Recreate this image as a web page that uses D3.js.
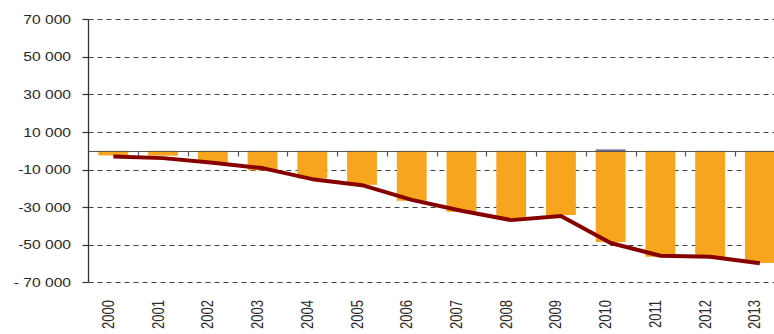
<!DOCTYPE html>
<html>
<head>
<meta charset="utf-8">
<script src="https://cdn.jsdelivr.net/npm/d3@7"></script>
<style>
  html, body { margin: 0; padding: 0; background: #fff; }
  svg { display: block; }
  text { font-family: "Liberation Sans", Arial, sans-serif; fill: #2a2a2a; }
</style>
</head>
<body>
<svg id="chart" width="774" height="334"></svg>
<script>
// Yearly figures
const years = ["2000","2001","2002","2003","2004","2005","2006","2007","2008","2009","2010","2011","2012","2013"];
const barValues = [-2500, -2600, -6100, -10400, -14700, -18100, -26600, -32500, -35800, -34200, -48600, -56400, -56700, -59700];
const smallValues = [0, 0, 0, 0, 0, 0, 0, 0, 0, 0, 700, 0, 0, 0];
const lineValues = [-3000, -3900, -6400, -9200, -15100, -18300, -26100, -31900, -36900, -34700, -49100, -55900, -56400, -59900];
const yTicks = [70000, 50000, 30000, 10000, -10000, -30000, -50000, -70000];
const yTickLabels = ["70 000", "50 000", "30 000", "10 000", "-10 000", "-30 000", "-50 000", "- 70 000"];

const svg = d3.select("#chart");
const plotLeft = 88.5, plotTop = 19.3, plotBottom = 282.3;
const band = 49.73;
const textScale = 1.2;

const x = d3.scaleBand().domain(years).range([plotLeft, plotLeft + band * years.length]).paddingInner(0.4).paddingOuter(0.2);
const y = d3.scaleLinear().domain([-70000, 70000]).range([plotBottom, plotTop]);

// dashed gridlines
svg.append("g").selectAll("line").data(yTicks).join("line")
  .attr("x1", plotLeft).attr("x2", 774)
  .attr("y1", d => Math.round(y(d)) + 0.5).attr("y2", d => Math.round(y(d)) + 0.5)
  .attr("stroke", "#444").attr("stroke-width", 1).attr("stroke-dasharray", "5,4");

// bars
svg.append("g").selectAll("rect").data(years).join("rect")
  .attr("x", d => x(d))
  .attr("width", x.bandwidth())
  .attr("y", (d, i) => y(Math.max(0, barValues[i])))
  .attr("height", (d, i) => Math.abs(y(barValues[i]) - y(0)))
  .attr("fill", "#F7A51F");

svg.append("g").selectAll("rect").data(years).join("rect")
  .attr("x", d => x(d))
  .attr("width", x.bandwidth())
  .attr("y", (d, i) => y(Math.max(0, smallValues[i])))
  .attr("height", (d, i) => Math.abs(y(smallValues[i]) - y(0)))
  .attr("fill", "#4a5488");

// zero line with category separators
const zeroY = Math.round(y(0)) + 0.5;
svg.append("line").attr("x1", plotLeft).attr("x2", 774).attr("y1", zeroY).attr("y2", zeroY)
  .attr("stroke", "#555").attr("stroke-width", 1);
svg.append("g").selectAll("line").data(years.slice(1)).join("line")
  .attr("x1", d => Math.round(x(d) - x.step() * x.paddingInner() / 2) + 0.5)
  .attr("x2", d => Math.round(x(d) - x.step() * x.paddingInner() / 2) + 0.5)
  .attr("y1", zeroY).attr("y2", zeroY + 5)
  .attr("stroke", "#555").attr("stroke-width", 1.2);

// y axis
svg.append("line").attr("x1", plotLeft).attr("x2", plotLeft).attr("y1", plotTop).attr("y2", plotBottom)
  .attr("stroke", "#333").attr("stroke-width", 1.3);
svg.append("g").selectAll("line").data(yTicks).join("line")
  .attr("x1", plotLeft - 6).attr("x2", plotLeft)
  .attr("y1", d => Math.round(y(d)) + 0.5).attr("y2", d => Math.round(y(d)) + 0.5)
  .attr("stroke", "#333").attr("stroke-width", 1.2);
svg.append("g").selectAll("text").data(yTicks).join("text")
  .attr("transform", d => `translate(71,${y(d) + 4.6}) scale(${textScale},1)`)
  .attr("text-anchor", "end")
  .attr("font-size", 13)
  .text((d, i) => yTickLabels[i]);

// line series
const line = d3.line()
  .x((d, i) => x(years[i]) + x.bandwidth() / 2)
  .y(d => y(d));
svg.append("path").datum(lineValues)
  .attr("d", line)
  .attr("fill", "none")
  .attr("stroke", "#870000")
  .attr("stroke-width", 4)
  .attr("stroke-linejoin", "round");

// x labels, rotated
svg.append("g").selectAll("text").data(years).join("text")
  .attr("transform", d => `translate(${x(d) + x.bandwidth() / 2 + 0.5},300) scale(${textScale},1) rotate(-90)`)
  .attr("text-anchor", "end")
  .attr("font-size", 13)
  .text(d => d);
</script>
</body>
</html>
